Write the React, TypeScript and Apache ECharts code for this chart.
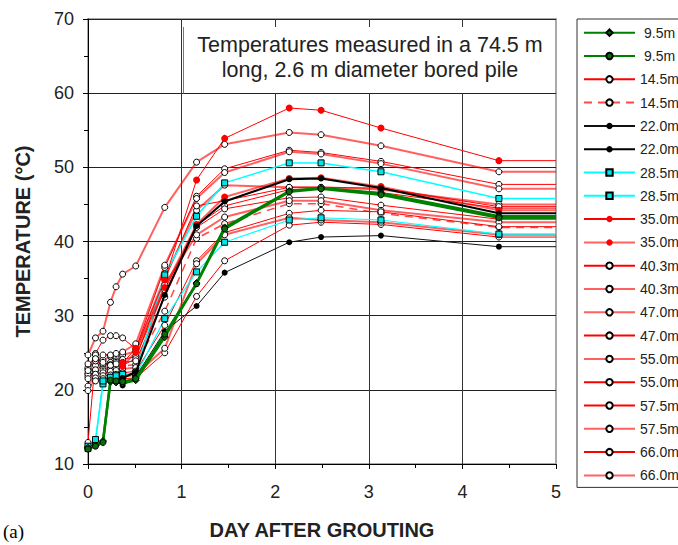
import React, { useEffect, useRef } from "react";
import * as echarts from "echarts";

// time after grouting (days); the last entry is the right edge the lines run on to
const days = [0, 0.08, 0.16, 0.24, 0.3, 0.37, 0.51, 0.82, 1.16, 1.46, 2.15, 2.49, 3.13, 4.39, 5];

const d9_5a = [12.2, 12.5, 13.1, 21.1, 21.0, 20.9, 21.3, 27.1, 34.4, 41.9, 46.8, 47.2, 46.5, 43.4, 43.4];
const d9_5b = [12.0, 12.4, 12.9, 21.3, 21.2, 21.1, 21.5, 27.5, 34.3, 41.7, 46.7, 47.1, 46.3, 43.2, 43.2];
const d14_5a = [12.9, 24.2, 23.0, 21.4, 21.4, 21.5, 21.6, 25.0, 32.6, 37.4, 42.2, 42.6, 42.3, 40.6, 40.6];
const d14_5b = [21.8, 22.5, 22.7, 22.9, 23.0, 23.2, 23.4, 30.6, 40.4, 42.4, 45.1, 45.1, 43.8, 41.9, 41.9];
const d22a = [null, null, null, null, null, 20.6, 21.8, 27.9, 31.3, 35.8, 39.9, 40.6, 40.8, 39.3, 39.3];
const d22b = [null, null, null, null, null, 21.6, 22.4, 32.8, 42.1, 45.4, 48.4, 48.5, 47.2, 43.8, 43.8];
const d28_5a = [12.1, 13.0, 20.8, 21.6, 21.8, 22.0, 22.3, 35.5, 43.4, 47.9, 50.6, 50.6, 49.4, 45.8, 45.8];
const d28_5b = [12.4, 13.3, 21.2, 21.7, 21.9, 22.1, 21.9, 29.6, 35.9, 39.9, 42.9, 43.2, 42.9, 41.0, 41.0];
const d35a = [null, null, null, null, null, 23.6, 25.6, 34.8, 48.3, 53.9, 58.0, 57.7, 55.3, 50.9, 50.9];
const d35b = [null, null, null, null, null, 23.2, 25.1, 33.8, 42.3, 46.0, 48.5, 48.6, 47.4, 44.2, 44.2];
const d40_3a = [22.2, 24.9, 26.7, 27.3, 27.3, 27.0, 25.5, 36.5, 46.1, 49.8, 52.3, 52.0, 50.8, 47.7, 47.7];
const d40_3b = [22.1, 23.3, 24.0, 24.5, 24.3, 24.7, 25.2, 35.2, 44.2, 47.6, 47.3, 47.3, 47.0, 45.0, 45.0];
const d47a = [22.8, 23.9, 24.7, 24.7, 24.9, 25.1, 26.2, 36.8, 45.8, 49.3, 52.1, 51.8, 50.5, 47.1, 47.1];
const d47b = [21.5, 22.7, 23.3, 23.7, 23.9, 24.1, 24.5, 33.5, 42.2, 44.8, 47.0, 47.1, 46.6, 44.5, 44.5];
const d55a = [24.7, 27.0, 27.9, 31.8, 33.9, 35.6, 36.7, 44.6, 50.7, 53.1, 54.7, 54.4, 52.9, 49.4, 49.4];
const d55b = [23.0, 24.7, 23.5, 23.4, 23.7, 23.3, 24.2, 34.9, 44.8, 45.5, 47.3, 47.3, 47.2, 44.7, 44.7];
const d57_5a = [23.5, 24.2, 23.7, 23.3, 23.5, 23.7, 23.9, 32.5, 41.9, 44.4, 45.9, 46.0, 44.9, 43.0, 43.0];
const d57_5b = [20.5, 22.1, 22.3, 22.5, 22.6, 22.8, 23.0, 34.2, 40.9, 43.3, 45.5, 45.5, 44.2, 42.6, 42.6];
const d66a = [19.9, 21.6, 21.9, 22.0, 22.1, 22.3, 22.5, 28.7, 37.4, 41.2, 43.8, 44.2, 44.0, 42.0, 42.0];
const d66b = [22.6, 21.2, 21.5, 21.7, 21.7, 21.8, 22.0, 25.6, 37.0, 40.9, 43.2, 42.9, 42.6, 40.9, 40.9];

const legendNames = [
  "9.5m#1", "9.5m#2", "14.5m#1", "14.5m#2", "22.0m#1", "22.0m#2", "28.5m#1", "28.5m#2",
  "35.0m#1", "35.0m#2", "40.3m#1", "40.3m#2", "47.0m#1", "47.0m#2", "55.0m#1", "55.0m#2",
  "57.5m#1", "57.5m#2", "66.0m#1", "66.0m#2",
];

const yTicks = { min: 10, max: 70, interval: 10 };
const xTicks = { min: 0, max: 5, interval: 1 };

const FONT = "'Liberation Sans', Arial, sans-serif";
const RED = "#ff0000";
const PINK = "rgba(255,0,0,0.62)";

function pts(vals: (number | null)[]) {
  const out: any[] = [];
  vals.forEach((v, i) => {
    if (v === null) return;
    out.push(i === vals.length - 1 ? { value: [days[i], v], symbol: "none" } : [days[i], v]);
  });
  return out;
}

type Sty = {
  line: string;
  width: number;
  dash?: boolean;
  symbol: string;
  size: number;
  fill: string;
  border?: string;
  z?: number;
};

function mk(name: string, vals: (number | null)[], s: Sty) {
  return {
    type: "line",
    name,
    data: pts(vals),
    symbol: s.symbol,
    symbolSize: s.size,
    z: s.z ?? 2,
    lineStyle: { color: s.line, width: s.width, type: s.dash ? [8, 6] : "solid" },
    itemStyle: {
      color: s.fill,
      borderColor: s.border ?? s.fill,
      borderWidth: s.border ? 1 : 0,
    },
    emphasis: { disabled: true },
    animation: false,
  };
}

const open = (line: string, width: number, dash = false): Sty => ({
  line, width, dash, symbol: "circle", size: 6, fill: "#ffffff", border: "#000000",
});

export default function App() {
  const ref = useRef<HTMLDivElement>(null);
  useEffect(() => {
    if (!ref.current) return;
    const chart = echarts.init(ref.current, undefined, { renderer: "svg" });
    const series = [
      mk("14.5m#1", d14_5a, open(RED, 1)),
      mk("14.5m#2", d14_5b, open("rgba(255,40,40,0.85)", 1.5, true)),
      mk("40.3m#1", d40_3a, open(RED, 1)),
      mk("40.3m#2", d40_3b, open(PINK, 2)),
      mk("47.0m#1", d47a, open(PINK, 2)),
      mk("47.0m#2", d47b, open(RED, 1)),
      mk("55.0m#1", d55a, open(PINK, 2)),
      mk("55.0m#2", d55b, open(RED, 1)),
      mk("57.5m#1", d57_5a, open(RED, 1)),
      mk("57.5m#2", d57_5b, open(PINK, 2)),
      mk("66.0m#1", d66a, open(RED, 1)),
      mk("66.0m#2", d66b, open(PINK, 2)),
      mk("28.5m#1", d28_5a, { line: "#00ffff", width: 1.5, symbol: "rect", size: 6, fill: "#00e5e5", border: "#000" }),
      mk("28.5m#2", d28_5b, { line: "#00ffff", width: 1.2, symbol: "rect", size: 6, fill: "#00e5e5", border: "#000" }),
      mk("35.0m#1", d35a, { line: RED, width: 1, symbol: "circle", size: 7, fill: RED }),
      mk("35.0m#2", d35b, { line: PINK, width: 2, symbol: "circle", size: 7, fill: RED }),
      mk("22.0m#1", d22a, { line: "#111", width: 1, symbol: "circle", size: 6, fill: "#000" }),
      mk("22.0m#2", d22b, { line: "#000", width: 2, symbol: "circle", size: 6, fill: "#000", z: 3 }),
      mk("9.5m#1", d9_5a, { line: "#008000", width: 2.5, symbol: "diamond", size: 7, fill: "#0a6b0a", border: "#000", z: 4 }),
      mk("9.5m#2", d9_5b, { line: "#008000", width: 2.5, symbol: "circle", size: 6, fill: "#0a6b0a", border: "#000", z: 4 }),
    ];

    chart.setOption({
      animation: false,
      backgroundColor: "#ffffff",
      grid: {
        left: 88, right: 122, top: 19, bottom: 80,
        show: true, borderColor: "#aaaaaa", borderWidth: 2, backgroundColor: "transparent",
      },
      xAxis: {
        type: "value",
        min: xTicks.min, max: xTicks.max, interval: xTicks.interval,
        name: "DAY AFTER GROUTING",
        nameLocation: "middle",
        nameGap: 56,
        nameTextStyle: { fontFamily: FONT, fontSize: 20, fontWeight: "bold", color: "#222" },
        axisLine: { show: true, onZero: false, lineStyle: { color: "#000", width: 1 } },
        axisTick: { show: true, length: 5, lineStyle: { color: "#000" } },
        minorTick: { show: true, splitNumber: 2, length: 4, lineStyle: { color: "#000" } },
        axisLabel: { fontFamily: FONT, fontSize: 18, color: "#222", margin: 19 },
        splitLine: { show: true, showMaxLine: false, lineStyle: { color: "#333", width: 1 } },
      },
      yAxis: {
        type: "value",
        min: yTicks.min, max: yTicks.max, interval: yTicks.interval,
        name: "TEMPERATURE (°C)",
        nameLocation: "middle",
        nameGap: 55,
        nameRotate: 90,
        nameTextStyle: { fontFamily: FONT, fontSize: 20, fontWeight: "bold", color: "#222" },
        axisLine: { show: true, lineStyle: { color: "#000", width: 1 } },
        axisTick: { show: true, length: 5, lineStyle: { color: "#000" } },
        minorTick: { show: true, splitNumber: 2, length: 4, lineStyle: { color: "#000" } },
        axisLabel: { fontFamily: FONT, fontSize: 18, color: "#222", margin: 14 },
        splitLine: { show: true, lineStyle: { color: "#222", width: 1 } },
      },
      legend: {
        orient: "vertical",
        left: 577,
        top: 19,
        padding: [6.7, 12, 5, 6],
        itemWidth: 51,
        itemHeight: 8,
        itemGap: 9.3,
        backgroundColor: "#ffffff",
        borderColor: "#333",
        borderWidth: 1,
        selectedMode: false,
        textStyle: { fontFamily: FONT, fontSize: 14, color: "#222", lineHeight: 14 },
        formatter: (n: string) => n.split("#")[0],
        data: legendNames.map((n) =>
          n.startsWith("9.5m") ? { name: n, textStyle: { padding: [0, 0, 0, 4] } } : { name: n }
        ),
      },
      graphic: [
        {
          type: "rect",
          z: 50,
          shape: { x: 183, y: 27, width: 372, height: 66 },
          style: { fill: "#ffffff" },
        },
        {
          type: "line",
          z: 51,
          shape: { x1: 183.5, y1: 27, x2: 183.5, y2: 93.5 },
          style: { stroke: "#777", lineWidth: 1 },
        },
        {
          type: "text",
          z: 52,
          x: 370,
          y: 57,
          style: {
            text: "Temperatures measured in a 74.5 m\nlong, 2.6 m diameter bored pile",
            fontFamily: FONT,
            fontSize: 21.5,
            lineHeight: 25,
            fill: "#222",
            align: "center",
            verticalAlign: "middle",
          },
        },
        {
          type: "text",
          left: 3,
          top: 522,
          style: { text: "(a)", fontFamily: "'Liberation Serif', serif", fontSize: 19, fill: "#000" },
        },
      ],
      series,
    });
    return () => chart.dispose();
  }, []);
  return (
    <div
      ref={ref}
      style={{ position: "absolute", left: 0, top: 0, width: 678, height: 545 }}
    />
  );
}
